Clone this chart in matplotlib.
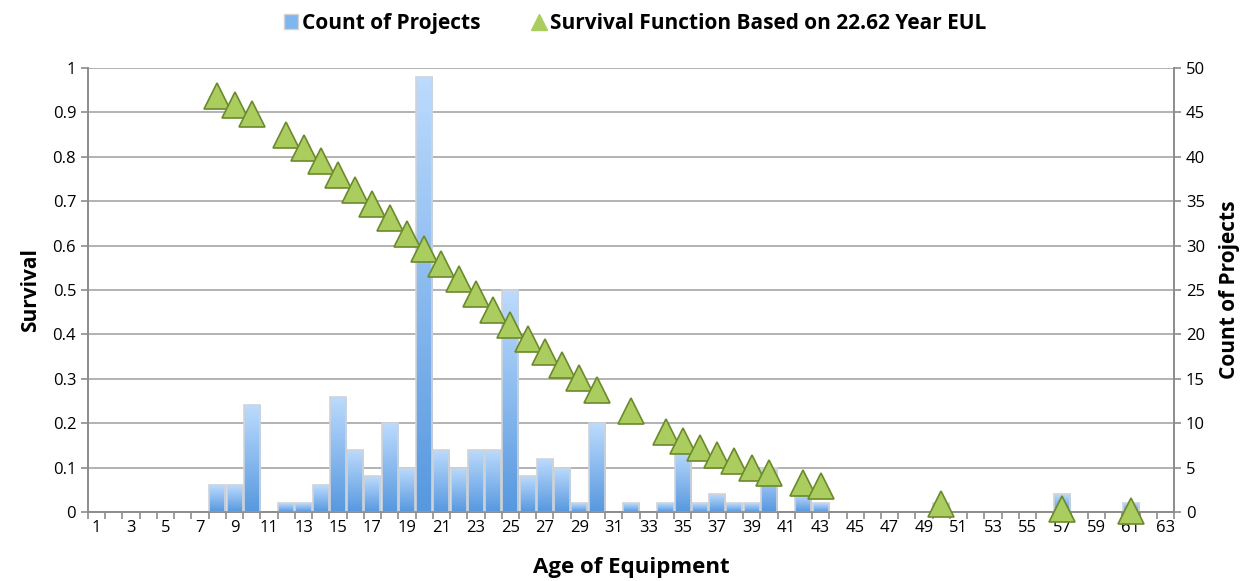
import matplotlib
matplotlib.use('Agg')
import matplotlib.pyplot as plt
from matplotlib.colors import LinearSegmentedColormap
from matplotlib.lines import Line2D
from matplotlib.patches import Patch
import numpy as np

plt.rcParams['font.family'] = ['Open Sans', 'DejaVu Sans']

# ------------------------------------------------------------
# Data
# ------------------------------------------------------------
ages = list(range(1, 64))

count_ages = [8, 9, 10, 12, 13, 14, 15, 16, 17, 18, 19, 20, 21, 22, 23, 24, 25,
              26, 27, 28, 29, 30, 32, 34, 35, 36, 37, 38, 39, 40, 42, 43, 50, 57, 61]
project_counts = [3, 3, 12, 1, 1, 3, 13, 7, 4, 10, 5, 49, 7, 5, 7, 7, 25,
                  4, 6, 5, 1, 10, 1, 1, 7, 1, 2, 1, 1, 5, 2, 1, 1, 2, 1]

surv_ages = [8, 9, 10, 12, 13, 14, 15, 16, 17, 18, 19, 20, 21, 22, 23, 24, 25,
             26, 27, 28, 29, 30, 32, 34, 35, 36, 37, 38, 39, 40, 42, 43, 50, 57, 61]
survival = [0.937, 0.917, 0.896, 0.848, 0.819, 0.790, 0.758, 0.725, 0.693, 0.661,
            0.627, 0.592, 0.559, 0.524, 0.490, 0.455, 0.421, 0.390, 0.360, 0.330,
            0.302, 0.275, 0.227, 0.180, 0.159, 0.143, 0.128, 0.114, 0.098, 0.087,
            0.066, 0.059, 0.018, 0.007, 0.002]

x_tick_labels = [str(a) for a in ages[::2]]

# ------------------------------------------------------------
# Figure
# ------------------------------------------------------------
fig = plt.figure(figsize=(12.45, 5.81), dpi=100)
ax = fig.add_axes([0.0707, 0.1188, 0.8723, 0.7642])
ax2 = ax.twinx()
ax.set_zorder(ax2.get_zorder() + 1)
ax.patch.set_visible(False)

grid_col = '#a6a6a6'
spine_col = '#8c8c8c'

# bars with a vertical blue gradient (count axis)
bar_cmap = LinearSegmentedColormap.from_list('barblue', ['#5798df', '#bcdbfd'])
grad = np.linspace(0, 1, 100).reshape(-1, 1)
bars = ax2.bar(count_ages, project_counts, width=0.93, color='none',
               edgecolor='#cfd3d8', linewidth=1.2, zorder=3)
for bar in bars:
    x0 = bar.get_x()
    w = bar.get_width()
    h = bar.get_height()
    im = ax2.imshow(grad, cmap=bar_cmap, origin='lower', aspect='auto',
                    extent=[x0, x0 + w, 0, h], zorder=2, interpolation='bicubic')
    im.set_clip_path(bar)

ax2.set_ylim(0, 50)
ax2.set_yticks(range(0, 51, 5))
ax2.grid(axis='y', color=grid_col, linewidth=1.2, zorder=0)
ax2.set_axisbelow(True)
ax2.set_ylabel('Count of Projects', fontsize=15, fontweight='bold', labelpad=10)

# survival triangles (survival axis)
ax.plot(surv_ages, survival, linestyle='none', marker='^', markersize=19,
        markerfacecolor='#abcd5f', markeredgecolor='#6b8a2c', markeredgewidth=1.2,
        zorder=5, clip_on=False)

ax.set_ylim(0, 1)
ax.set_yticks(np.arange(0, 1.01, 0.1))
ax.set_yticklabels(['0', '0.1', '0.2', '0.3', '0.4', '0.5', '0.6', '0.7', '0.8', '0.9', '1'])
ax.set_ylabel('Survival', fontsize=15, fontweight='bold', labelpad=8)

ax.set_xlim(0.5, 63.5)
ax.set_xticks(ages[::2])
ax.set_xticklabels(x_tick_labels)
ax.set_xticks(np.arange(0.5, 64, 1), minor=True)
ax.tick_params(axis='x', which='major', length=0, labelsize=12, pad=6)
ax.tick_params(axis='x', which='minor', length=5, color=spine_col, width=1.2)
ax.tick_params(axis='y', length=5, color=spine_col, width=1.2, labelsize=12)
ax2.tick_params(axis='y', length=5, color=spine_col, width=1.2, labelsize=12)
ax.set_xlabel('Age of Equipment', fontsize=16, fontweight='bold', labelpad=15)

for a in (ax, ax2):
    for side in ('left', 'right', 'bottom'):
        a.spines[side].set_color(spine_col)
        a.spines[side].set_linewidth(1.2)
    a.spines['top'].set_visible(False)

# legend along the top
handles = [Patch(facecolor='#7fb6ee', edgecolor='#cfd3d8'),
           Line2D([], [], linestyle='none', marker='^', markersize=12,
                  markerfacecolor='#abcd5f', markeredgecolor='#abcd5f')]
labels = ['Count of Projects', 'Survival Function Based on 22.62 Year EUL']
fig.legend(handles, labels, loc='upper center', bbox_to_anchor=(0.51, 1.01),
           ncol=2, frameon=False, prop={'weight': 'bold', 'size': 15},
           handlelength=0.7, handletextpad=0.15, columnspacing=2.5)

plt.savefig('out.png', dpi=100)
plt.close()
